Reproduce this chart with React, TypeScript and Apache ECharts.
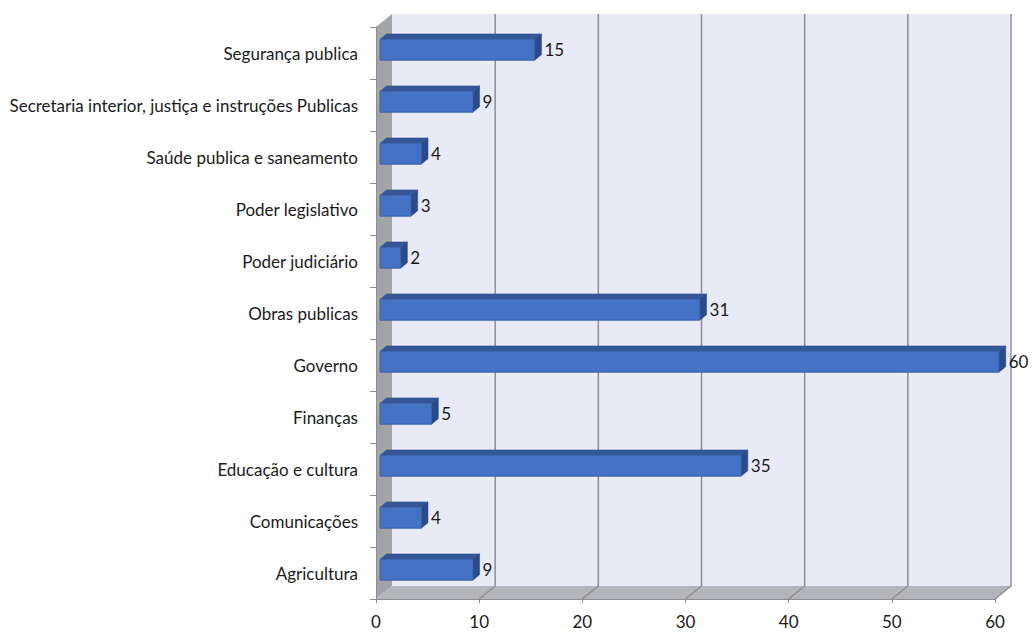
import React, { useEffect, useRef } from "react";
import * as echarts from "echarts";

const categories = [
  "Agricultura",
  "Comunicações",
  "Educação e cultura",
  "Finanças",
  "Governo",
  "Obras publicas",
  "Poder judiciário",
  "Poder legislativo",
  "Saúde publica e saneamento",
  "Secretaria interior, justiça e instruções Publicas",
  "Segurança publica",
];
const values = [9, 4, 35, 5, 60, 31, 2, 3, 4, 9, 15];
const ticks = [0, 10, 20, 30, 40, 50, 60];

const DX = 16;
const DY = -13;
const FONT = "Lato";

export default function App() {
  const ref = useRef<HTMLDivElement>(null);
  useEffect(() => {
    if (!ref.current) return;
    const chart = echarts.init(ref.current, undefined, { renderer: "svg" });
    const option: any = {
      animation: false,
      backgroundColor: "#ffffff",
      grid: { left: 376, top: 27, width: 619, height: 572, containLabel: false },
      xAxis: {
        type: "value",
        min: 0,
        max: 60,
        interval: 10,
        z: 5,
        axisLine: { show: true, lineStyle: { color: "#8e8e8e", width: 1 } },
        axisTick: { show: true, length: 4, lineStyle: { color: "#8e8e8e" } },
        axisLabel: { fontFamily: FONT, fontSize: 17, color: "#1a1a1a", margin: 14 },
        splitLine: { show: false },
      },
      yAxis: {
        type: "category",
        data: categories,
        z: 5,
        axisLine: { show: true, lineStyle: { color: "#8e8e8e", width: 1 } },
        axisTick: { show: true, length: 6, lineStyle: { color: "#8e8e8e" } },
        axisLabel: { fontFamily: FONT, fontSize: 17, color: "#1a1a1a", margin: 18 },
        splitLine: { show: false },
      },
      series: [
        {
          type: "custom",
          z: 0,
          silent: true,
          data: [[0, 0]],
          renderItem: (params: any, api: any) => {
            const cs = params.coordSys;
            const x0 = cs.x;
            const x1 = cs.x + cs.width;
            const y0 = cs.y;
            const y1 = cs.y + cs.height;
            const children: any[] = [];
            children.push({
              type: "polygon",
              shape: { points: [[x0 + DX, y0 + DY], [x1 + DX, y0 + DY], [x1 + DX, y1 + DY], [x0 + DX, y1 + DY]] },
              style: { fill: "#e8eaf6" },
            });
            children.push({
              type: "polygon",
              shape: { points: [[x0, y0], [x0 + DX, y0 + DY], [x0 + DX, y1 + DY], [x0, y1]] },
              style: { fill: "#a3a4a8" },
            });
            children.push({
              type: "polygon",
              shape: { points: [[x0, y1], [x1, y1], [x1 + DX, y1 + DY], [x0 + DX, y1 + DY]] },
              style: { fill: "#b3b5ba" },
            });
            ticks.forEach((t) => {
              if (t === 0) return;
              const px = api.coord([t, 0])[0];
              children.push({
                type: "polyline",
                shape: { points: [[px + DX, y0 + DY], [px + DX, y1 + DY], [px, y1]] },
                style: { stroke: "#8e8e8e", lineWidth: 1.5, fill: null },
              });
            });
            return { type: "group", children };
          },
        },
        {
          type: "custom",
          z: 3,
          data: values.map((v, i) => [v, i]),
          renderItem: (params: any, api: any) => {
            const v = api.value(0);
            const c = api.value(1);
            const p0 = api.coord([0, c]);
            const p1 = api.coord([v, c]);
            const band = api.size([0, 1])[1];
            const h = band * 0.4;
            const d1 = 0.25;
            const d2 = 0.67;
            const fx0 = p0[0] + DX * d1;
            const fx1 = p1[0] + DX * d1;
            const cy = p0[1] + DY * d1;
            const fy0 = cy - h / 2;
            const fy1 = cy + h / 2;
            const ox = DX * (d2 - d1);
            const oy = DY * (d2 - d1);
            return {
              type: "group",
              children: [
                {
                  type: "polygon",
                  shape: { points: [[fx0, fy0], [fx1, fy0], [fx1 + ox, fy0 + oy], [fx0 + ox, fy0 + oy]] },
                  style: { fill: "#34579a", stroke: "#2c4a85", lineWidth: 0.5 },
                },
                {
                  type: "polygon",
                  shape: { points: [[fx1, fy0], [fx1 + ox, fy0 + oy], [fx1 + ox, fy1 + oy], [fx1, fy1]] },
                  style: { fill: "#2c4a85", stroke: "#27427a", lineWidth: 0.5 },
                },
                {
                  type: "rect",
                  shape: { x: fx0, y: fy0, width: fx1 - fx0, height: h },
                  style: { fill: "#4472c4", stroke: "#3a62a8", lineWidth: 1 },
                },
                {
                  type: "text",
                  style: {
                    x: fx1 + ox + 3,
                    y: cy,
                    text: String(v),
                    fontFamily: FONT,
                    fontSize: 17,
                    fill: "#1a1a1a",
                    align: "left",
                    verticalAlign: "middle",
                  },
                },
              ],
            };
          },
        },
      ],
    };
    chart.setOption(option);
    return () => chart.dispose();
  }, []);
  return (
    <div
      ref={ref}
      style={{ position: "fixed", left: 0, top: 0, width: 1032, height: 632 }}
    />
  );
}
